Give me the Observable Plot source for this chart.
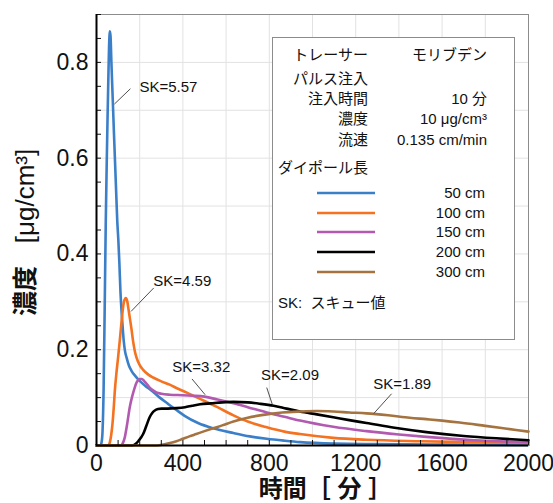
<!DOCTYPE html>
<html>
<head>
<meta charset="utf-8">
<script src="https://cdn.jsdelivr.net/npm/d3@7"></script>
<script src="https://cdn.jsdelivr.net/npm/@observablehq/plot@0.6"></script>
<style>
  html, body { margin: 0; padding: 0; background: #fff; }
  #wrap { position: relative; width: 553px; height: 503px; overflow: hidden; }
  #legend { position: absolute; left: 0; top: 0; pointer-events: none; }
  text { font-family: "Liberation Sans", Arial, "Noto Sans CJK JP", sans-serif; }
</style>
</head>
<body>
<div id="wrap"></div>
<script>
// ---------- data ----------
const seriesNames = ["50 cm", "100 cm", "150 cm", "200 cm", "300 cm"];
const seriesColors = ["#3b7fc9", "#f47220", "#b25ab0", "#000000", "#a5733f"];

const t50 = [0,18,24,28,33,38,43,47,51,55,58,62,65,69,73,77,81,86,91,96,101,106,111,116,120,126,132,139,150,162,180,200,225,254,290,331,370,408,470,540,634,710,788,870,942,1100,1300,1600,2000];
const v50 = [0,0,0.008,0.03,0.12,0.29,0.47,0.58,0.68,0.77,0.83,0.865,0.855,0.80,0.75,0.70,0.65,0.59,0.53,0.47,0.43,0.38,0.32,0.28,0.254,0.219,0.197,0.184,0.167,0.156,0.145,0.135,0.125,0.115,0.101,0.087,0.074,0.062,0.047,0.036,0.026,0.019,0.014,0.010,0.007,0.004,0.003,0.002,0.001];

const t100 = [0,55,62,68,74,80,85,92,100,108,115,122,128,136,142,148,154,162,169,177,185,200,216,240,262,300,339,380,416,462,500,560,634,700,788,870,942,1096,1250,1500,1750,2000];
const v100 = [0,0,0.007,0.022,0.045,0.08,0.115,0.15,0.184,0.22,0.254,0.285,0.302,0.308,0.302,0.285,0.267,0.243,0.219,0.198,0.184,0.168,0.158,0.148,0.142,0.134,0.127,0.118,0.111,0.101,0.093,0.080,0.063,0.050,0.038,0.029,0.024,0.016,0.012,0.009,0.007,0.005];

const t150 = [0,112,122,131,142,154,165,177,185,192,200,210,220,230,246,262,277,300,339,400,443,500,560,634,700,788,870,942,1096,1250,1400,1527,1750,2000];
const v150 = [0,0,0.005,0.017,0.045,0.080,0.102,0.121,0.131,0.136,0.139,0.139,0.135,0.130,0.121,0.115,0.111,0.108,0.106,0.105,0.104,0.102,0.096,0.088,0.080,0.069,0.060,0.052,0.039,0.030,0.023,0.018,0.011,0.007];

const t200 = [0,165,180,195,216,230,246,258,270,285,300,330,370,410,443,480,530,582,634,700,760,820,880,942,1020,1096,1170,1250,1380,1527,1700,1850,2000];
const v200 = [0,0,0.003,0.01,0.024,0.040,0.059,0.068,0.073,0.076,0.077,0.077,0.078,0.080,0.083,0.086,0.088,0.090,0.091,0.090,0.087,0.083,0.077,0.071,0.065,0.059,0.053,0.047,0.037,0.028,0.020,0.015,0.011];

const t300 = [0,280,310,340,370,400,430,462,500,540,582,634,700,788,860,942,1020,1096,1170,1250,1350,1450,1527,1600,1681,1800,1900,2000];
const v300 = [0,0,0.002,0.005,0.009,0.014,0.019,0.024,0.030,0.036,0.042,0.050,0.058,0.065,0.069,0.071,0.072,0.071,0.069,0.067,0.063,0.058,0.055,0.052,0.048,0.041,0.035,0.029];

const seriesT = [t50, t100, t150, t200, t300];
const seriesV = [v50, v100, v150, v200, v300];

// SK annotations: label, text position, leader start, leader end (data units)
const skLabels = ["SK=5.57", "SK=4.59", "SK=3.32", "SK=2.09", "SK=1.89"];
const skTextT = [199, 263, 351, 762, 1281];
const skTextV = [0.748, 0.344, 0.163, 0.146, 0.129];
const skLeadT1 = [157, 265, 442, 788, 1366];
const skLeadV1 = [0.745, 0.329, 0.139, 0.121, 0.108];
const skLeadT2 = [83, 160, 503, 816, 1284];
const skLeadV2 = [0.713, 0.280, 0.106, 0.083, 0.067];

const xTickValues = [0, 400, 800, 1200, 1600, 2000];
const xTickLabels = ["0", "400", "800", "1200", "1600", "2000"];
const yTickValues = [0, 0.2, 0.4, 0.6, 0.8];
const yTickLabels = ["0", "0.2", "0.4", "0.6", "0.8"];

const xTitle = "時間［ 分 ］";
const yTitleMain = "濃度";
const yTitleUnit = "[μg/cm³]";

const legendInfoLeft = ["トレーサー", "パルス注入", "注入時間", "濃度", "流速"];
const legendInfoRight = ["モリブデン", "", "10 分", "10 μg/cm³", "0.135 cm/min"];
const legendHeading = "ダイポール長";
const legendNote = "SK:  スキュー値";

// ---------- build table ----------
const rows = [];
seriesNames.forEach((name, i) => {
  seriesT[i].forEach((t, j) => rows.push({series: name, t, v: seriesV[i][j]}));
});
const ann = skLabels.map((label, i) => ({
  label, tx: skTextT[i], ty: skTextV[i],
  x1: skLeadT1[i], y1: skLeadV1[i], x2: skLeadT2[i], y2: skLeadV2[i]
}));

const font = '"Liberation Sans", Arial, "Noto Sans CJK JP", sans-serif';

const chart = Plot.plot({
  width: 553,
  height: 503,
  marginLeft: 96,
  marginRight: 25,
  marginTop: 14,
  marginBottom: 58,
  style: {fontFamily: font, background: "white", overflow: "visible"},
  x: {domain: [0, 2000], label: null, axis: null},
  y: {domain: [0, 0.9], label: null, axis: null},
  color: {domain: seriesNames, range: seriesColors},
  marks: [
    Plot.gridX(d3.range(0, 2001, 200), {stroke: "#e2e2e2", strokeOpacity: 1}),
    Plot.gridY(d3.range(0, 0.9001, 0.1), {stroke: "#e2e2e2", strokeOpacity: 1}),
    Plot.frame({stroke: "#8c8c8c"}),
    Plot.line(rows, {x: "t", y: "v", z: "series", stroke: "series", curve: "monotone-x", strokeWidth: 2.6}),
    Plot.link(ann, {x1: "x1", y1: "y1", x2: "x2", y2: "y2", stroke: "#222", strokeWidth: 0.8}),
    Plot.text(ann, {x: "tx", y: "ty", text: "label", textAnchor: "start", fontSize: 15, fill: "#111"}),
    Plot.axisX(d3.range(0, 2001, 100), {tickSize: -5, tickFormat: () => "", label: null, stroke: "#111"}),
    Plot.axisY(d3.range(0, 0.9001, 0.05), {tickSize: -5, tickFormat: () => "", label: null, stroke: "#111"}),
    Plot.axisX(xTickValues, {tickSize: 0, tickPadding: 9, fontSize: 23, label: null,
      tickFormat: (d) => xTickLabels[xTickValues.indexOf(d)], fill: "#111"}),
    Plot.axisY(yTickValues, {tickSize: 0, tickPadding: 8, fontSize: 23, label: null,
      tickFormat: (d) => yTickLabels[yTickValues.indexOf(d)], fill: "#111"}),
    Plot.ruleX([0], {stroke: "#000", strokeWidth: 2}),
    Plot.ruleY([0], {stroke: "#000", strokeWidth: 2}),
    Plot.text([yTitleMain], {frameAnchor: "left", textAnchor: "middle", dx: -71, dy: 61, rotate: -90, fontSize: 25, fontWeight: "bold", fill: "#111"}),
    Plot.text([yTitleUnit], {frameAnchor: "left", textAnchor: "middle", dx: -71, dy: -34, rotate: -90, fontSize: 26, fill: "#111"}),
    Plot.text([xTitle], {frameAnchor: "bottom", textAnchor: "middle", dx: 13, dy: 51, fontSize: 24, fontWeight: "bold", fill: "#111"})
  ]
});
document.getElementById("wrap").appendChild(chart);

// ---------- legend box (overlay) ----------
const svg = d3.select("#wrap").append("svg")
  .attr("id", "legend").attr("width", 553).attr("height", 503)
  .style("font-family", font);

svg.append("rect").attr("x", 272.5).attr("y", 37.5).attr("width", 242).attr("height", 302)
  .attr("fill", "white").attr("stroke", "#8c8c8c").attr("stroke-width", 1);

const infoY = [55, 79, 99, 119, 140];
legendInfoLeft.forEach((s, i) => {
  svg.append("text").attr("x", 368).attr("y", infoY[i]).attr("dy", "0.35em")
    .attr("text-anchor", "end").attr("font-size", 15).attr("fill", "#111").text(s);
  if (legendInfoRight[i]) {
    svg.append("text").attr("x", 487).attr("y", infoY[i]).attr("dy", "0.35em")
      .attr("text-anchor", "end").attr("font-size", 15).attr("fill", "#111").text(legendInfoRight[i]);
  }
});
svg.append("text").attr("x", 278).attr("y", 168).attr("dy", "0.35em")
  .attr("font-size", 15).attr("fill", "#111").text(legendHeading);

const itemY = [193, 213, 232, 252, 272];
seriesNames.forEach((name, i) => {
  svg.append("line").attr("x1", 317).attr("x2", 375).attr("y1", itemY[i]).attr("y2", itemY[i])
    .attr("stroke", seriesColors[i]).attr("stroke-width", 2.6);
  svg.append("text").attr("x", 485).attr("y", itemY[i]).attr("dy", "0.35em")
    .attr("text-anchor", "end").attr("font-size", 15).attr("fill", "#111").text(name);
});
svg.append("text").attr("x", 278).attr("y", 303).attr("dy", "0.35em")
  .attr("font-size", 15).attr("fill", "#111").style("white-space", "pre").text(legendNote);
</script>
</body>
</html>
